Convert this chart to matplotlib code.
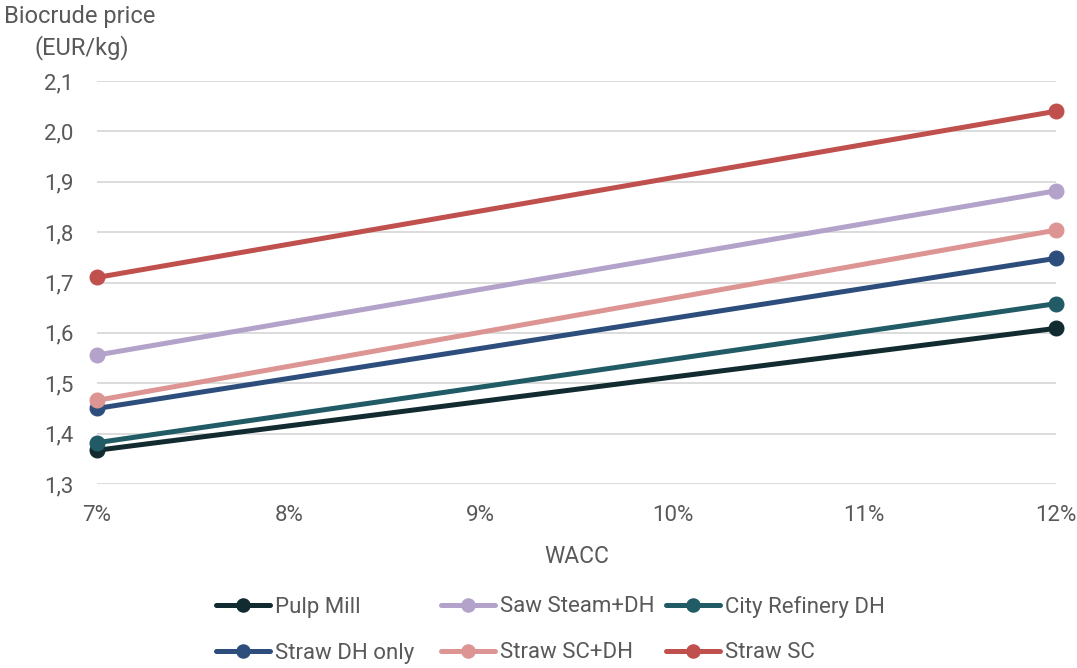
import matplotlib
matplotlib.use("Agg")
import matplotlib.pyplot as plt
from matplotlib.ticker import FuncFormatter

# Data
wacc = [7, 12]
series_names = ["Pulp Mill", "Saw Steam+DH", "City Refinery DH",
                "Straw DH only", "Straw SC+DH", "Straw SC"]
pulp_mill = [1.367, 1.609]
saw_steam_dh = [1.556, 1.882]
city_refinery_dh = [1.382, 1.658]
straw_dh_only = [1.450, 1.748]
straw_sc_dh = [1.466, 1.804]
straw_sc = [1.710, 2.040]
x_ticks = [7, 8, 9, 10, 11, 12]
y_ticks = [1.3, 1.4, 1.5, 1.6, 1.7, 1.8, 1.9, 2.0, 2.1]

series_values = [pulp_mill, saw_steam_dh, city_refinery_dh,
                 straw_dh_only, straw_sc_dh, straw_sc]
colors = ["#112B30", "#B3A2CA", "#215B66", "#2D4E7C", "#DC9593", "#C0504D"]

plt.rcParams["font.family"] = ["Roboto", "DejaVu Sans"]
text_color = "#595959"

W, H = 1077, 668
fig = plt.figure(figsize=(W / 100, H / 100), dpi=100)
ax = fig.add_axes([97 / W, 1 - 484 / H, (1056 - 97) / W, (484 - 81) / H])

handles = []
for name, vals, c in zip(series_names, series_values, colors):
    h, = ax.plot(wacc, vals, color=c, lw=3.6, marker="o", ms=10.5,
                 solid_capstyle="round", clip_on=False, zorder=3, label=name)
    handles.append(h)

ax.set_xlim(7, 12)
ax.set_ylim(1.3, 2.1)
ax.set_xticks(x_ticks)
ax.set_yticks(y_ticks)
ax.xaxis.set_major_formatter(FuncFormatter(lambda v, p: f"{v:.0f}%"))
ax.yaxis.set_major_formatter(FuncFormatter(lambda v, p: f"{v:.1f}".replace(".", ",")))
ax.grid(axis="y", color="#D9D9D9", lw=1.3)
ax.set_axisbelow(True)
for s in ax.spines.values():
    s.set_visible(False)
ax.tick_params(axis="both", length=0, labelsize=16, labelcolor=text_color)
ax.tick_params(axis="y", pad=17)
ax.tick_params(axis="x", pad=15)

ax.set_xlabel("WACC", fontsize=16.5, color=text_color, labelpad=14)
fig.text(0.004, 1 - 17 / H, "Biocrude price", fontsize=17, color=text_color,
         ha="left", va="center")
fig.text(35 / W, 1 - 48 / H, "(EUR/kg)", fontsize=17, color=text_color,
         ha="left", va="center")

# Legend: 2 rows x 3 columns, each entry placed at its column/row anchor
col_x = [216, 441, 666]
row_y = [607, 653]
for i, (h, name) in enumerate(zip(handles, series_names)):
    r, c = divmod(i, 3)
    leg = fig.legend([h], [name], loc="center left",
                     bbox_to_anchor=(col_x[c] / W, 1 - row_y[r] / H),
                     frameon=False, fontsize=16, handlelength=2.45,
                     handletextpad=0.2, borderpad=0, borderaxespad=0,
                     markerscale=0.9)
    for t in leg.get_texts():
        t.set_color(text_color)

fig.savefig("out.png", dpi=100)
